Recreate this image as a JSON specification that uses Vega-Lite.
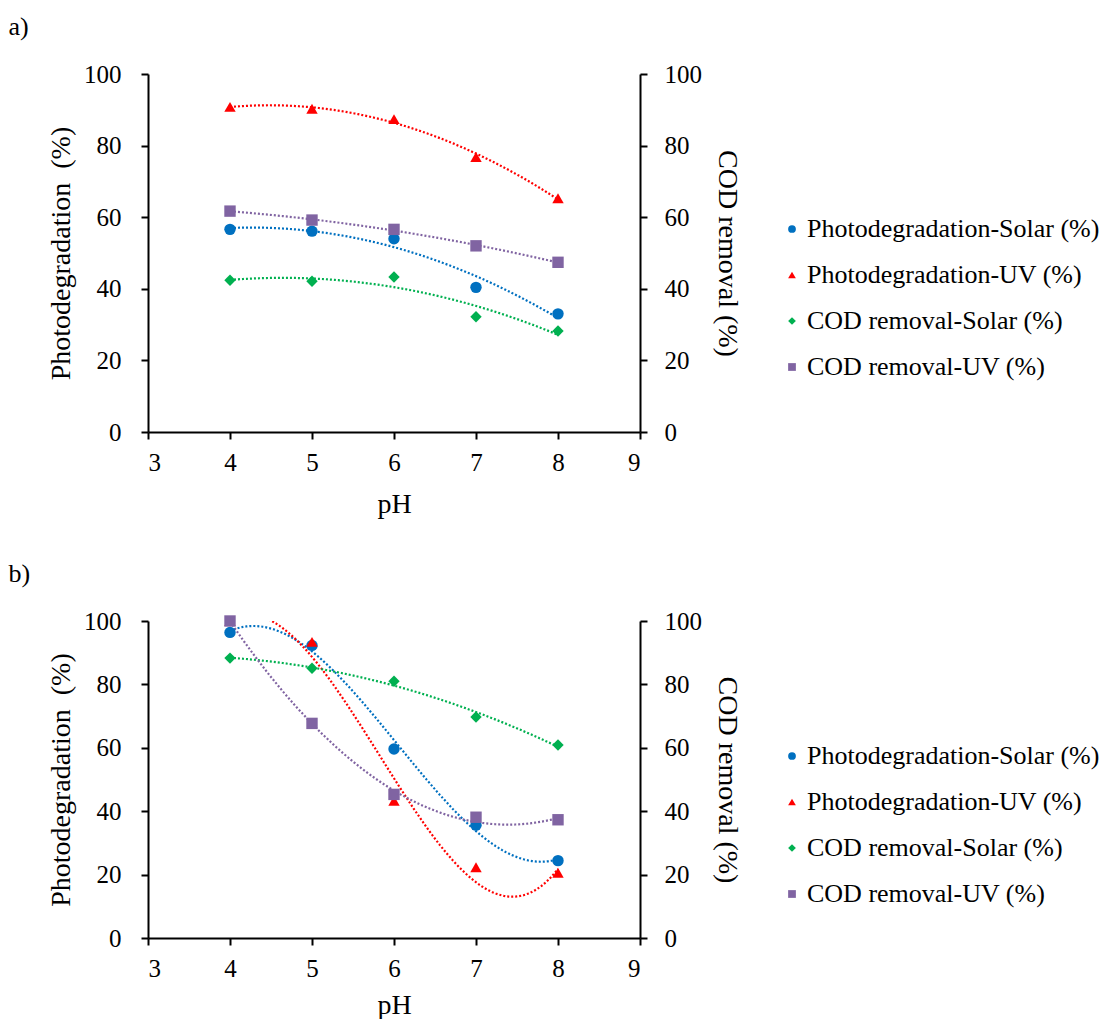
{
  "$schema": "https://vega.github.io/schema/vega-lite/v6.json",
  "padding": {"left": 8, "top": 14, "right": 0, "bottom": 0},
  "config": {
    "font": "Liberation Serif",
    "view": {"stroke": null},
    "axis": {
      "labelFont": "Liberation Serif", "titleFont": "Liberation Serif",
      "labelFontSize": 25, "titleFontSize": 28, "titleFontWeight": "normal",
      "labelColor": "#000", "titleColor": "#000", "domainColor": "#000", "tickColor": "#000",
      "domainWidth": 2, "tickWidth": 2, "tickSize": 7, "grid": false, "labelPadding": 11
    },
    "legend": {
      "labelFont": "Liberation Serif", "labelFontSize": 26, "labelColor": "#000",
      "titleFont": "Liberation Serif", "titleFontSize": 1,
      "symbolSize": 60, "symbolStrokeWidth": 0, "rowPadding": 20, "padding": 0, "labelOffset": 2,
      "labelLimit": 400, "offset": 38
    },
    "text": {"font": "Liberation Serif"},
    "title": {"font": "Liberation Serif", "fontSize": 26, "fontWeight": "normal", "anchor": "start", "color": "#000"}
  },
  "datasets": {
    "a": [
      {"pH": 4, "value": 56.6, "series": "Photodegradation-Solar (%)"},
      {"pH": 5, "value": 56.1, "series": "Photodegradation-Solar (%)"},
      {"pH": 6, "value": 54.0, "series": "Photodegradation-Solar (%)"},
      {"pH": 7, "value": 40.4, "series": "Photodegradation-Solar (%)"},
      {"pH": 8, "value": 33.0, "series": "Photodegradation-Solar (%)"},
      {"pH": 4, "value": 90.8, "series": "Photodegradation-UV (%)"},
      {"pH": 5, "value": 90.3, "series": "Photodegradation-UV (%)"},
      {"pH": 6, "value": 87.4, "series": "Photodegradation-UV (%)"},
      {"pH": 7, "value": 76.8, "series": "Photodegradation-UV (%)"},
      {"pH": 8, "value": 65.3, "series": "Photodegradation-UV (%)"},
      {"pH": 4, "value": 42.4, "series": "COD removal-Solar (%)"},
      {"pH": 5, "value": 42.1, "series": "COD removal-Solar (%)"},
      {"pH": 6, "value": 43.3, "series": "COD removal-Solar (%)"},
      {"pH": 7, "value": 32.2, "series": "COD removal-Solar (%)"},
      {"pH": 8, "value": 28.2, "series": "COD removal-Solar (%)"},
      {"pH": 4, "value": 61.7, "series": "COD removal-UV (%)"},
      {"pH": 5, "value": 59.2, "series": "COD removal-UV (%)"},
      {"pH": 6, "value": 56.6, "series": "COD removal-UV (%)"},
      {"pH": 7, "value": 52.0, "series": "COD removal-UV (%)"},
      {"pH": 8, "value": 47.4, "series": "COD removal-UV (%)"}
    ],
    "b": [
      {"pH": 4, "value": 96.4, "series": "Photodegradation-Solar (%)"},
      {"pH": 5, "value": 92.3, "series": "Photodegradation-Solar (%)"},
      {"pH": 6, "value": 59.6, "series": "Photodegradation-Solar (%)"},
      {"pH": 7, "value": 35.6, "series": "Photodegradation-Solar (%)"},
      {"pH": 8, "value": 24.4, "series": "Photodegradation-Solar (%)"},
      {"pH": 4, "value": 100.0, "series": "Photodegradation-UV (%)"},
      {"pH": 5, "value": 93.4, "series": "Photodegradation-UV (%)"},
      {"pH": 6, "value": 43.3, "series": "Photodegradation-UV (%)"},
      {"pH": 7, "value": 22.3, "series": "Photodegradation-UV (%)"},
      {"pH": 8, "value": 20.6, "series": "Photodegradation-UV (%)"},
      {"pH": 4, "value": 88.3, "series": "COD removal-Solar (%)"},
      {"pH": 5, "value": 85.1, "series": "COD removal-Solar (%)"},
      {"pH": 6, "value": 81.0, "series": "COD removal-Solar (%)"},
      {"pH": 7, "value": 69.7, "series": "COD removal-Solar (%)"},
      {"pH": 8, "value": 60.9, "series": "COD removal-Solar (%)"},
      {"pH": 4, "value": 100.0, "series": "COD removal-UV (%)"},
      {"pH": 5, "value": 67.7, "series": "COD removal-UV (%)"},
      {"pH": 6, "value": 45.3, "series": "COD removal-UV (%)"},
      {"pH": 7, "value": 38.1, "series": "COD removal-UV (%)"},
      {"pH": 8, "value": 37.3, "series": "COD removal-UV (%)"}
    ]
  },
  "spacing": 43,
  "resolve": {
    "scale": {"color": "independent", "shape": "independent"},
    "legend": {"color": "independent", "shape": "independent"}
  },
  "vconcat": [
    {
      "title": {"text": "a)", "frame": "bounds", "dx": -39, "offset": 22},
      "width": 492,
      "height": 358,
      "data": {"name": "a"},
      "resolve": {"axis": {"y": "independent"}},
      "layer": [
        {
          "transform": [{"filter": {"field": "series", "equal": "Photodegradation-Solar (%)"}},
                        {"regression": "value", "on": "pH", "method": "poly", "order": 2}],
          "mark": {"type": "line", "strokeDash": [2, 2], "strokeWidth": 2.2, "clip": true, "color": "#0070C0"},
          "encoding": {
            "x": {"field": "pH", "type": "quantitative", "scale": {"domain": [3, 9], "nice": false, "zero": false},
                  "axis": {"values": [3, 4, 5, 6, 7, 8, 9], "format": "d", "title": "pH", "titlePadding": 15}},
            "y": {"field": "value", "type": "quantitative", "scale": {"domain": [0, 100], "nice": false},
                  "axis": {"orient": "left", "values": [0, 20, 40, 60, 80, 100], "title": "Photodegradation\u00a0\u00a0(%)", "titlePadding": 8, "labelPadding": 20}}
          }
        },
        {
          "transform": [{"filter": {"field": "series", "equal": "Photodegradation-UV (%)"}},
                        {"regression": "value", "on": "pH", "method": "poly", "order": 2}],
          "mark": {"type": "line", "strokeDash": [2, 2], "strokeWidth": 2.2, "clip": true, "color": "#FF0000"},
          "encoding": {
            "x": {"field": "pH", "type": "quantitative"},
            "y": {"field": "value", "type": "quantitative", "axis": null}
          }
        },
        {
          "transform": [{"filter": {"field": "series", "equal": "COD removal-Solar (%)"}},
                        {"regression": "value", "on": "pH", "method": "poly", "order": 2}],
          "mark": {"type": "line", "strokeDash": [2, 2], "strokeWidth": 2.2, "clip": true, "color": "#00B050"},
          "encoding": {
            "x": {"field": "pH", "type": "quantitative"},
            "y": {"field": "value", "type": "quantitative", "axis": null}
          }
        },
        {
          "transform": [{"filter": {"field": "series", "equal": "COD removal-UV (%)"}},
                        {"regression": "value", "on": "pH", "method": "poly", "order": 2}],
          "mark": {"type": "line", "strokeDash": [2, 2], "strokeWidth": 2.2, "clip": true, "color": "#8064A2"},
          "encoding": {
            "x": {"field": "pH", "type": "quantitative"},
            "y": {"field": "value", "type": "quantitative", "axis": null}
          }
        },
        {
          "mark": {"type": "point", "filled": true, "opacity": 1, "size": 130},
          "encoding": {
            "x": {"field": "pH", "type": "quantitative"},
            "y": {"field": "value", "type": "quantitative",
                  "axis": {"orient": "right", "values": [0, 20, 40, 60, 80, 100], "title": "COD removal (%)", "titlePadding": 11, "labelPadding": 17}},
            "color": {"field": "series", "type": "nominal", "title": "\u00a0",
                      "scale": {"domain": ["Photodegradation-Solar (%)", "Photodegradation-UV (%)", "COD removal-Solar (%)", "COD removal-UV (%)"],
                                "range": ["#0070C0", "#FF0000", "#00B050", "#8064A2"]},
                      "legend": {"titlePadding": 141, "labelFont": "Liberation Serif", "labelFontSize": 26, "labelColor": "#000"}},
            "shape": {"field": "series", "type": "nominal", "title": "\u00a0",
                      "scale": {"domain": ["Photodegradation-Solar (%)", "Photodegradation-UV (%)", "COD removal-Solar (%)", "COD removal-UV (%)"],
                                "range": ["circle", "triangle-up", "diamond", "square"]},
                      "legend": {"titlePadding": 141, "labelFont": "Liberation Serif", "labelFontSize": 26, "labelColor": "#000"}}
          }
        }
      ]
    },
    {
      "title": {"text": "b)", "frame": "bounds", "dx": -39, "offset": 22},
      "width": 492,
      "height": 317,
      "data": {"name": "b"},
      "resolve": {"axis": {"y": "independent"}},
      "layer": [
        {
          "transform": [{"filter": {"field": "series", "equal": "Photodegradation-Solar (%)"}},
                        {"regression": "value", "on": "pH", "method": "poly", "order": 3}],
          "mark": {"type": "line", "strokeDash": [2, 2], "strokeWidth": 2.2, "clip": true, "color": "#0070C0"},
          "encoding": {
            "x": {"field": "pH", "type": "quantitative", "scale": {"domain": [3, 9], "nice": false, "zero": false},
                  "axis": {"values": [3, 4, 5, 6, 7, 8, 9], "format": "d", "title": "pH", "titlePadding": 10}},
            "y": {"field": "value", "type": "quantitative", "scale": {"domain": [0, 100], "nice": false},
                  "axis": {"orient": "left", "values": [0, 20, 40, 60, 80, 100], "title": "Photodegradation\u00a0\u00a0(%)", "titlePadding": 8, "labelPadding": 20}}
          }
        },
        {
          "transform": [{"filter": {"field": "series", "equal": "Photodegradation-UV (%)"}},
                        {"regression": "value", "on": "pH", "method": "poly", "order": 3}],
          "mark": {"type": "line", "strokeDash": [2, 2], "strokeWidth": 2.2, "clip": true, "color": "#FF0000"},
          "encoding": {
            "x": {"field": "pH", "type": "quantitative"},
            "y": {"field": "value", "type": "quantitative", "axis": null}
          }
        },
        {
          "transform": [{"filter": {"field": "series", "equal": "COD removal-Solar (%)"}},
                        {"regression": "value", "on": "pH", "method": "poly", "order": 2}],
          "mark": {"type": "line", "strokeDash": [2, 2], "strokeWidth": 2.2, "clip": true, "color": "#00B050"},
          "encoding": {
            "x": {"field": "pH", "type": "quantitative"},
            "y": {"field": "value", "type": "quantitative", "axis": null}
          }
        },
        {
          "transform": [{"filter": {"field": "series", "equal": "COD removal-UV (%)"}},
                        {"regression": "value", "on": "pH", "method": "poly", "order": 2}],
          "mark": {"type": "line", "strokeDash": [2, 2], "strokeWidth": 2.2, "clip": true, "color": "#8064A2"},
          "encoding": {
            "x": {"field": "pH", "type": "quantitative"},
            "y": {"field": "value", "type": "quantitative", "axis": null}
          }
        },
        {
          "mark": {"type": "point", "filled": true, "opacity": 1, "size": 130},
          "encoding": {
            "x": {"field": "pH", "type": "quantitative"},
            "y": {"field": "value", "type": "quantitative",
                  "axis": {"orient": "right", "values": [0, 20, 40, 60, 80, 100], "title": "COD removal (%)", "titlePadding": 11, "labelPadding": 17}},
            "color": {"field": "series", "type": "nominal", "title": "\u00a0",
                      "scale": {"domain": ["Photodegradation-Solar (%)", "Photodegradation-UV (%)", "COD removal-Solar (%)", "COD removal-UV (%)"],
                                "range": ["#0070C0", "#FF0000", "#00B050", "#8064A2"]},
                      "legend": {"titlePadding": 121, "labelFont": "Liberation Serif", "labelFontSize": 26, "labelColor": "#000"}},
            "shape": {"field": "series", "type": "nominal", "title": "\u00a0",
                      "scale": {"domain": ["Photodegradation-Solar (%)", "Photodegradation-UV (%)", "COD removal-Solar (%)", "COD removal-UV (%)"],
                                "range": ["circle", "triangle-up", "diamond", "square"]},
                      "legend": {"titlePadding": 121, "labelFont": "Liberation Serif", "labelFontSize": 26, "labelColor": "#000"}}
          }
        }
      ]
    }
  ]
}
